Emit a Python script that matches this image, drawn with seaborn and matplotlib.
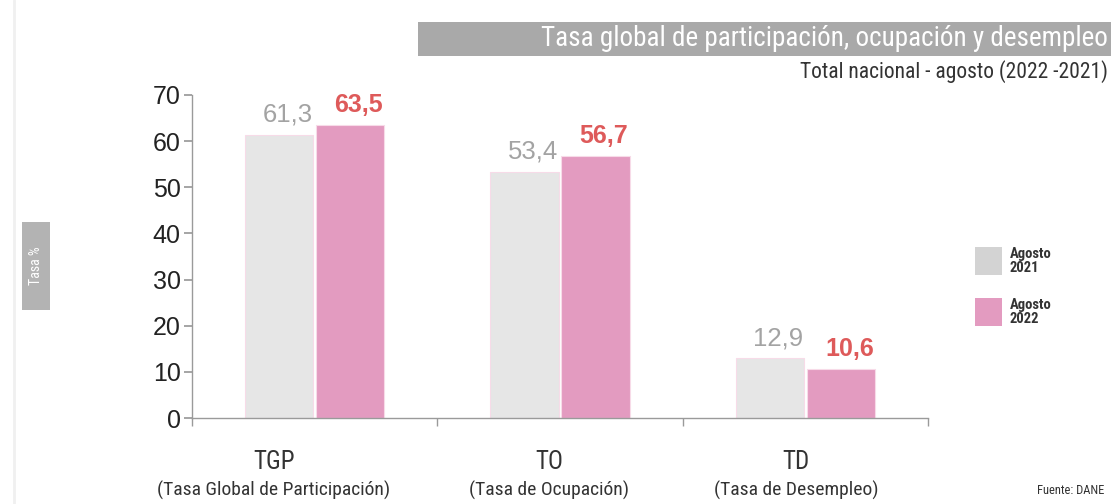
import pandas as pd
import numpy as np
import matplotlib.pyplot as plt
import matplotlib.patches as mpatches
import seaborn as sns

# ── Data ──────────────────────────────────────────────
indicators = ['TGP', 'TO', 'TD']
indicator_names = ['(Tasa Global de Participación)', '(Tasa de Ocupación)',
                   '(Tasa de Desempleo)']
periods = ['Agosto 2021', 'Agosto 2022']
values_2021 = [61.3, 53.4, 12.9]
values_2022 = [63.5, 56.7, 10.6]
yticks = [0, 10, 20, 30, 40, 50, 60, 70]

df = pd.DataFrame({
    'indicador': indicators * 2,
    'periodo': [periods[0]] * 3 + [periods[1]] * 3,
    'tasa': values_2021 + values_2022,
})

# ── Settings ──────────────────────────────────────────
sns.set_theme(style='white')
plt.rcParams['font.family'] = ['Liberation Sans', 'DejaVu Sans']
narrow = ['Liberation Sans Narrow', 'Roboto Condensed', 'Roboto']

gray_bar = '#e6e6e6'
pink_bar = '#e39bc0'
gray_txt = '#a3a3a3'
red_txt = '#de5a5a'
axis_col = '#9a9a9a'

fig = plt.figure(figsize=(11.11, 5.04), dpi=100)
ax = fig.add_axes([0.1728, 0.1706, 0.6625, 0.641])

sns.barplot(data=df, x='indicador', y='tasa', hue='periodo',
            palette=[gray_bar, pink_bar], saturation=1, width=0.58, gap=0.04,
            edgecolor='#f7dbe8', linewidth=0.8, legend=False, ax=ax)

# value labels, nudged a little to the right like the source
for cont, col, fs, wt in zip(ax.containers, [gray_txt, red_txt], [18.5, 18],
                             ['normal', 'bold']):
    labels = [f'{v:.1f}'.replace('.', ',') for v in cont.datavalues]
    anns = ax.bar_label(cont, labels=labels, padding=6, color=col, fontsize=fs,
                        fontweight=wt)
    for a in anns:
        a.xyann = (6, 6)

ax.set_xlim(-0.5, 2.5)
ax.set_ylim(0, 70)
ax.set_yticks(yticks)
ax.tick_params(axis='y', length=6, color=axis_col, labelsize=18,
               labelcolor='#222222', pad=2, left=True)
ax.set_xticks(range(3))
ax.set_xticklabels([])
ax.tick_params(axis='x', which='major', length=0)
ax.set_xticks([-0.5, 0.5, 1.5, 2.5], minor=True)
ax.tick_params(axis='x', which='minor', length=6, color=axis_col,
               bottom=True, width=1)
ax.set_xlabel('')
ax.set_ylabel('')
for s in ['top', 'right']:
    ax.spines[s].set_visible(False)
for s in ['left', 'bottom']:
    ax.spines[s].set_color(axis_col)
    ax.spines[s].set_linewidth(1)

# category labels (slightly left of the bar groups, as in the source)
label_shift = [-0.167, -0.045, -0.037]
trans = ax.get_xaxis_transform()
for i, (abbr, name) in enumerate(zip(indicators, indicator_names)):
    ax.text(i + label_shift[i], -0.135, abbr, transform=trans, ha='center',
            va='center', fontsize=18, color='#333333', family=narrow)
    ax.text(i + label_shift[i], -0.225, name, transform=trans, ha='center',
            va='center', fontsize=14, color='#333333', family=narrow)

# title banner
fig.add_artist(mpatches.Rectangle((418 / 1111, 1 - 56 / 504), 693 / 1111, 34 / 504,
                                  transform=fig.transFigure, color='#a9a9a9', lw=0))
fig.text(1108 / 1111, 1 - 39 / 504, 'Tasa global de participación, ocupación y desempleo',
         ha='right', va='center', color='white', fontsize=19.5, family=narrow)
fig.text(1108 / 1111, 1 - 72 / 504, 'Total nacional - agosto (2022 -2021)',
         ha='right', va='center', color='#333333', fontsize=15.5, family=narrow)

# y label box
fig.add_artist(mpatches.Rectangle((22 / 1111, 1 - 310 / 504), 28 / 1111, 88 / 504,
                                  transform=fig.transFigure, color='#b3b3b3', lw=0))
fig.text(36 / 1111, 1 - 266 / 504, 'Tasa %', rotation=90, ha='center', va='center',
         color='white', fontsize=10, family=narrow)

# left faint line
fig.add_artist(plt.Line2D([14 / 1111, 14 / 1111], [0, 1], transform=fig.transFigure,
                          color='#f0f0f0', lw=2))

# legend
for (yt, col, lab) in [(247, '#d3d3d3', 'Agosto\n2021'), (298, pink_bar, 'Agosto\n2022')]:
    fig.add_artist(mpatches.Rectangle((975 / 1111, 1 - (yt + 28) / 504), 27 / 1111, 28 / 504,
                                      transform=fig.transFigure, color=col, lw=0))
    fig.text(1010 / 1111, 1 - (yt + 14) / 504, lab, ha='left', va='center',
             fontsize=10.5, fontweight='bold', color='#333333', family=narrow,
             linespacing=1.0)

fig.text(1104 / 1111, 1 - 490 / 504, 'Fuente: DANE', ha='right', va='center',
         fontsize=9, color='#333333', family=narrow)

fig.savefig('out.png', dpi=100)
